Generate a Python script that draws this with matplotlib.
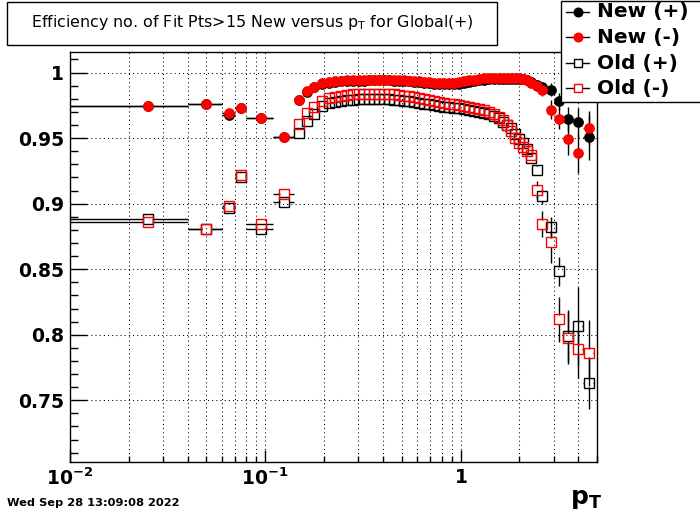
import numpy as np
import matplotlib
matplotlib.use("Agg")
import matplotlib.pyplot as plt
from matplotlib.patches import Rectangle
from matplotlib.lines import Line2D
from matplotlib.collections import LineCollection
from matplotlib.ticker import FixedLocator, FixedFormatter, MultipleLocator, FuncFormatter, NullFormatter, LogLocator

# ---------------- data ----------------
pt = [0.025, 0.05, 0.065, 0.075, 0.095, 0.125,
      0.149, 0.164, 0.178, 0.195, 0.212, 0.228, 0.244, 0.262, 0.281, 0.302,
      0.320, 0.340, 0.360, 0.382, 0.405, 0.430, 0.456, 0.484, 0.513, 0.544,
      0.577, 0.612, 0.650, 0.689, 0.731, 0.775, 0.822, 0.872, 0.925, 0.981,
      1.041, 1.104, 1.171, 1.242, 1.318, 1.398, 1.483, 1.573, 1.649, 1.729,
      1.813, 1.900, 1.991, 2.088, 2.188, 2.294, 2.453, 2.620,
      2.892, 3.179, 3.535, 3.978, 4.528]

# edges of the wide low-pT bins
low_lo = [0.01, 0.04, 0.06, 0.07, 0.08, 0.11]
low_hi = [0.04, 0.06, 0.07, 0.08, 0.11, 0.14]

eff_new_pos = [0.9745, 0.9764, 0.9677, 0.9733, 0.9650, 0.9505,
               0.9790, 0.9852, 0.9887, 0.9912, 0.9922, 0.9928, 0.9932, 0.9935, 0.9937, 0.9938,
               0.9939, 0.9940, 0.9940, 0.9941, 0.9941, 0.9940, 0.9939, 0.9937, 0.9935, 0.9933,
               0.9930, 0.9927, 0.9923, 0.9919, 0.9915, 0.9912, 0.9910, 0.9910, 0.9912, 0.9916,
               0.9922, 0.9928, 0.9935, 0.9941, 0.9946, 0.9949, 0.9950, 0.9950, 0.9950, 0.9951,
               0.9952, 0.9951, 0.9950, 0.9948, 0.9942, 0.9925, 0.9908, 0.9890,
               0.9870, 0.9780, 0.9646, 0.9621, 0.9505]
err_new_pos = [0.0010, 0.0012, 0.0015, 0.0015, 0.0012, 0.0012,
               0.0010, 0.0008, 0.0007, 0.0006, 0.0005, 0.0005, 0.0005, 0.0005, 0.0005, 0.0005,
               0.0005, 0.0005, 0.0005, 0.0005, 0.0005, 0.0005, 0.0005, 0.0005, 0.0005, 0.0005,
               0.0005, 0.0005, 0.0005, 0.0005, 0.0005, 0.0005, 0.0005, 0.0005, 0.0005, 0.0005,
               0.0006, 0.0006, 0.0006, 0.0007, 0.0007, 0.0008, 0.0008, 0.0009, 0.0010, 0.0010,
               0.0011, 0.0012, 0.0013, 0.0015, 0.0017, 0.0020, 0.0025, 0.0030,
               0.0050, 0.0065, 0.0090, 0.0110, 0.0170]

eff_new_neg = [0.9745, 0.9764, 0.9688, 0.9733, 0.9650, 0.9505,
               0.9794, 0.9858, 0.9893, 0.9918, 0.9928, 0.9934, 0.9938, 0.9941, 0.9943, 0.9944,
               0.9945, 0.9946, 0.9947, 0.9947, 0.9947, 0.9946, 0.9945, 0.9943, 0.9941, 0.9939,
               0.9936, 0.9933, 0.9930, 0.9927, 0.9924, 0.9922, 0.9921, 0.9921, 0.9923, 0.9927,
               0.9933, 0.9940, 0.9947, 0.9953, 0.9957, 0.9959, 0.9959, 0.9958, 0.9957, 0.9957,
               0.9958, 0.9957, 0.9955, 0.9952, 0.9945, 0.9920, 0.9898, 0.9865,
               0.9718, 0.9646, 0.9494, 0.9383, 0.9580]
err_new_neg = [0.0010, 0.0012, 0.0015, 0.0015, 0.0012, 0.0012,
               0.0010, 0.0008, 0.0007, 0.0006, 0.0005, 0.0005, 0.0005, 0.0005, 0.0005, 0.0005,
               0.0005, 0.0005, 0.0005, 0.0005, 0.0005, 0.0005, 0.0005, 0.0005, 0.0005, 0.0005,
               0.0005, 0.0005, 0.0005, 0.0005, 0.0005, 0.0005, 0.0005, 0.0005, 0.0005, 0.0005,
               0.0006, 0.0006, 0.0006, 0.0007, 0.0007, 0.0008, 0.0008, 0.0009, 0.0010, 0.0010,
               0.0011, 0.0012, 0.0013, 0.0015, 0.0017, 0.0020, 0.0030, 0.0040,
               0.0070, 0.0080, 0.0120, 0.0150, 0.0130]

eff_old_pos = [0.8880, 0.8808, 0.8968, 0.9200, 0.8808, 0.9014,
               0.9540, 0.9631, 0.9687, 0.9745, 0.9765, 0.9776, 0.9785, 0.9790, 0.9793, 0.9795,
               0.9796, 0.9797, 0.9797, 0.9797, 0.9796, 0.9795, 0.9793, 0.9790, 0.9786, 0.9781,
               0.9776, 0.9770, 0.9764, 0.9758, 0.9752, 0.9746, 0.9741, 0.9736, 0.9731, 0.9726,
               0.9721, 0.9715, 0.9709, 0.9702, 0.9694, 0.9684, 0.9670, 0.9650, 0.9626, 0.9600,
               0.9580, 0.9535, 0.9490, 0.9460, 0.9420, 0.9345, 0.9255, 0.9055,
               0.8820, 0.8485, 0.7990, 0.8066, 0.7633]
err_old_pos = [0.0015, 0.0015, 0.0020, 0.0020, 0.0015, 0.0015,
               0.0010, 0.0009, 0.0008, 0.0007, 0.0006, 0.0006, 0.0006, 0.0006, 0.0006, 0.0006,
               0.0006, 0.0006, 0.0006, 0.0006, 0.0006, 0.0006, 0.0006, 0.0006, 0.0006, 0.0006,
               0.0006, 0.0006, 0.0006, 0.0006, 0.0006, 0.0006, 0.0006, 0.0006, 0.0007, 0.0007,
               0.0007, 0.0008, 0.0008, 0.0009, 0.0009, 0.0010, 0.0011, 0.0012, 0.0013, 0.0014,
               0.0016, 0.0018, 0.0020, 0.0023, 0.0027, 0.0032, 0.0040, 0.0057,
               0.0076, 0.0110, 0.0200, 0.0300, 0.0200]

eff_old_neg = [0.8857, 0.8808, 0.8983, 0.9215, 0.8842, 0.9070,
               0.9606, 0.9692, 0.9738, 0.9786, 0.9803, 0.9814, 0.9824, 0.9830, 0.9834, 0.9836,
               0.9838, 0.9839, 0.9840, 0.9840, 0.9839, 0.9838, 0.9835, 0.9830, 0.9825, 0.9819,
               0.9812, 0.9805, 0.9797, 0.9789, 0.9781, 0.9774, 0.9768, 0.9762, 0.9757, 0.9752,
               0.9746, 0.9739, 0.9731, 0.9722, 0.9712, 0.9700, 0.9684, 0.9662, 0.9635, 0.9600,
               0.9555, 0.9500, 0.9460, 0.9430, 0.9405, 0.9375, 0.9103, 0.8842,
               0.8705, 0.8118, 0.7976, 0.7890, 0.7859]
err_old_neg = [0.0015, 0.0015, 0.0020, 0.0020, 0.0015, 0.0015,
               0.0010, 0.0009, 0.0008, 0.0007, 0.0006, 0.0006, 0.0006, 0.0006, 0.0006, 0.0006,
               0.0006, 0.0006, 0.0006, 0.0006, 0.0006, 0.0006, 0.0006, 0.0006, 0.0006, 0.0006,
               0.0006, 0.0006, 0.0006, 0.0006, 0.0006, 0.0006, 0.0006, 0.0006, 0.0007, 0.0007,
               0.0007, 0.0008, 0.0008, 0.0009, 0.0009, 0.0010, 0.0011, 0.0012, 0.0013, 0.0014,
               0.0016, 0.0018, 0.0020, 0.0023, 0.0027, 0.0035, 0.0070, 0.0100,
               0.0160, 0.0170, 0.0200, 0.0220, 0.0250]

legend_labels = ["New (+)", "New (-)", "Old (+)", "Old (-)"]
title_text = r"Efficiency no. of Fit Pts>15 New versus p$_{\mathrm{T}}$ for Global(+)"
date_text = "Wed Sep 28 13:09:08 2022"
x_ticks = [0.01, 0.1, 1.0]
x_tick_labels = [r"$\mathbf{10^{-2}}$", r"$\mathbf{10^{-1}}$", r"$\mathbf{1}$"]
y_ticks = [0.75, 0.80, 0.85, 0.90, 0.95, 1.00]
x_range = (0.01, 5.0)
y_range = (0.7029, 1.0157)

# ---------------- figure ----------------
W, H = 700, 514
fig = plt.figure(figsize=(W / 100, H / 100), dpi=100)
fig.patch.set_facecolor("white")

def fx(p):
    return p / W

def fy(p):
    return 1 - p / H

AX_L, AX_R, AX_T, AX_B = 70, 597, 52, 462
ax = fig.add_axes([fx(AX_L), fy(AX_B), (AX_R - AX_L) / W, (AX_B - AX_T) / H])
ax.set_xscale("log")
ax.set_xlim(*x_range)
ax.set_ylim(*y_range)

for s in ax.spines.values():
    s.set_linewidth(1.0)
    s.set_color("black")

dot = (0, (1, 3))
ax.grid(True, axis="x", which="both", color="black", linestyle=dot, linewidth=0.75)
ax.grid(True, axis="y", which="major", color="black", linestyle=dot, linewidth=0.75)
ax.grid(False, axis="y", which="minor")
ax.set_axisbelow(True)

ax.xaxis.set_major_locator(FixedLocator(x_ticks))
ax.xaxis.set_major_formatter(FixedFormatter(x_tick_labels))
ax.xaxis.set_minor_locator(LogLocator(base=10, subs=np.arange(2, 10)))
ax.xaxis.set_minor_formatter(NullFormatter())
ax.yaxis.set_major_locator(FixedLocator(y_ticks))
ax.yaxis.set_major_formatter(FuncFormatter(lambda v, p: "%g" % v))
ax.yaxis.set_minor_locator(MultipleLocator(0.01))

ax.tick_params(axis="both", which="both", direction="in", top=False, right=False,
               colors="black", width=1.0)
ax.tick_params(axis="y", which="major", length=12, pad=4.3)
ax.tick_params(axis="y", which="minor", length=6)
ax.tick_params(axis="x", which="major", length=9, pad=4.0)
ax.tick_params(axis="x", which="minor", length=4.5)
for lab in ax.get_xticklabels() + ax.get_yticklabels():
    lab.set_fontsize(13.5)
    lab.set_fontweight("bold")
    lab.set_family("DejaVu Sans")

MS = 6.7          # marker size (points)
HALF_PX = 4.6     # half marker extent in pixels (error bars stop at marker edge)
ax_h_px = AX_B - AX_T
ax_w_px = AX_R - AX_L
dy_m = HALF_PX * (y_range[1] - y_range[0]) / ax_h_px
dlx_m = HALF_PX * (np.log10(x_range[1]) - np.log10(x_range[0])) / ax_w_px

pt_a = np.array(pt)
n_low = len(low_lo)
rest = pt_a[n_low:]
mids = np.sqrt(rest[:-1] * rest[1:])
x_lo = np.concatenate([low_lo, [low_hi[-1]], mids])
x_hi = np.concatenate([low_hi, mids, [rest[-1] ** 2 / mids[-1]]])

def draw_series(y, yerr, color, marker, filled):
    y = np.asarray(y)
    e = np.asarray(yerr)
    segs = []
    f = 10 ** dlx_m
    for xi, yi, ei, lo, hi in zip(pt_a, y, e, x_lo, x_hi):
        if ei > dy_m:
            segs.append([(xi, yi + dy_m), (xi, yi + ei)])
            segs.append([(xi, yi - dy_m), (xi, yi - ei)])
        if hi > xi * f:
            segs.append([(xi * f, yi), (hi, yi)])
        if lo < xi / f:
            segs.append([(lo, yi), (xi / f, yi)])
    ax.add_collection(LineCollection(segs, colors="black", linewidths=1.0, zorder=3))
    ax.plot(pt_a, y, linestyle="none", marker=marker, ms=MS,
            mfc=color if filled else "none", mec=color, mew=1.0, zorder=3)

series = [
    (eff_new_pos, err_new_pos, "black", "o", True),
    (eff_new_neg, err_new_neg, "#ff0000", "o", True),
    (eff_old_pos, err_old_pos, "black", "s", False),
    (eff_old_neg, err_old_neg, "#ff0000", "s", False),
]
for y, e, c, m, f in series:
    draw_series(y, e, c, m, f)

# ---------------- title box ----------------
fig.add_artist(Rectangle((fx(7), fy(45)), (497 - 7) / W, (45 - 2) / H, transform=fig.transFigure,
                         facecolor="white", edgecolor="black", linewidth=1.0))
fig.text(fx(252), fy(23), title_text, ha="center", va="center", fontsize=11.4,
         family="DejaVu Sans", color="black")

# ---------------- legend ----------------
fig.add_artist(Rectangle((fx(561), fy(102)), (702 - 561) / W, (102 - 1) / H, transform=fig.transFigure,
                         facecolor="white", edgecolor="black", linewidth=1.0, zorder=5))
rows = [12, 37, 63, 88]
for (y, e, c, m, f), lab, ry in zip(series, legend_labels, rows):
    fig.add_artist(Line2D([fx(566), fx(589)], [fy(ry), fy(ry)], transform=fig.transFigure,
                          color="black", linewidth=1.0, zorder=6))
    fig.add_artist(Line2D([fx(577.5)], [fy(ry)], transform=fig.transFigure, linestyle="none",
                          marker=m, ms=MS - 0.5, mfc=c if f else "white", mec=c, mew=1.0, zorder=7))
    fig.text(fx(597), fy(ry), lab, ha="left", va="center", fontsize=14.5, fontweight="bold",
             family="DejaVu Sans", zorder=8)

# ---------------- axis title and date ----------------
fig.text(fx(586), fy(499), r"$\mathbf{p}_{\mathbf{T}}$", ha="center", va="center", fontsize=18)
fig.text(fx(7), fy(503), date_text, ha="left", va="center", fontsize=8.2, fontweight="bold",
         family="DejaVu Sans")

fig.savefig("out.png", dpi=100, facecolor="white")
